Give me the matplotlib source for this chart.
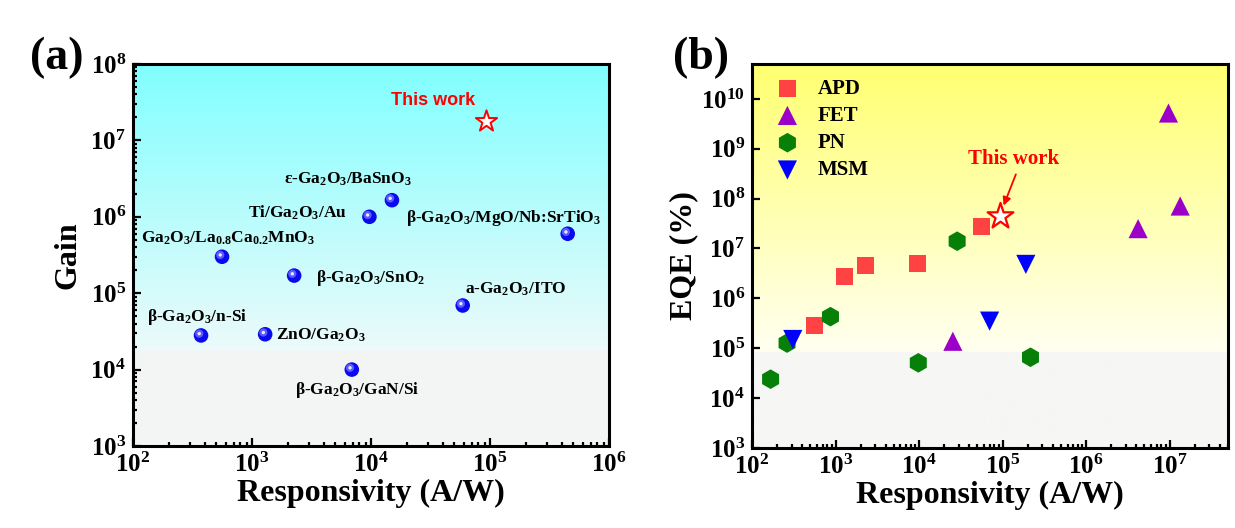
import numpy as np
import matplotlib
matplotlib.use('Agg')
import matplotlib.pyplot as plt
from matplotlib.transforms import offset_copy

plt.rcParams['font.family'] = ['Liberation Serif', 'DejaVu Serif']
plt.rcParams['font.weight'] = 'bold'
plt.rcParams['mathtext.fontset'] = 'custom'
plt.rcParams['mathtext.rm'] = 'Liberation Serif:bold'
plt.rcParams['mathtext.it'] = 'Liberation Serif:bold'
plt.rcParams['mathtext.bf'] = 'Liberation Serif:bold'
plt.rcParams['mathtext.default'] = 'bf'

# ---- panel (a): gain vs responsivity ----
gain_names = [r'$\varepsilon$-Ga$_2$O$_3$/BaSnO$_3$', 'Ti/Ga$_2$O$_3$/Au',
              r'$\beta$-Ga$_2$O$_3$/MgO/Nb:SrTiO$_3$',
              'Ga$_2$O$_3$/La$_{0.8}$Ca$_{0.2}$MnO$_3$', r'$\beta$-Ga$_2$O$_3$/SnO$_2$',
              'a-Ga$_2$O$_3$/ITO', r'$\beta$-Ga$_2$O$_3$/n-Si', 'ZnO/Ga$_2$O$_3$',
              r'$\beta$-Ga$_2$O$_3$/GaN/Si']
gain_resp = [1.5e4, 9.7e3, 4.5e5, 560, 2.26e3, 5.9e4, 373, 1.29e3, 6.9e3]
gain_vals = [1.65e6, 1.0e6, 6.0e5, 3.0e5, 1.7e5, 6.9e4, 2.8e4, 2.9e4, 1.0e4]
# label offsets (points) and alignment
gain_offs = [(-32, 15, 'center'), (-16, 3, 'right'), (24, 11, 'right'), (4, 13, 'center'),
             (16, -2, 'left'), (2, 11.5, 'left'), (-2.5, 13.5, 'center'), (8, -1, 'left'),
             (4, -15, 'center')]
this_resp_a, this_gain = 9.25e4, 1.8e7

# ---- panel (b): EQE vs responsivity ----
apd_resp = [555, 1.29e3, 2.28e3, 9.7e3, 5.66e4]
apd_eqe = [2.8e5, 2.7e6, 4.6e6, 5.0e6, 2.8e7]
fet_resp = [2.54e4, 4.2e6, 9.7e6, 1.34e7]
fet_eqe = [1.38e5, 2.5e7, 5.2e9, 7.1e7]
pn_resp = [167, 263, 870, 9.8e3, 2.86e4, 2.16e5]
pn_eqe = [2.4e4, 1.27e5, 4.3e5, 5.1e4, 1.4e7, 6.6e4]
msm_resp = [308, 7.0e4, 1.9e5]
msm_eqe = [1.5e5, 3.5e5, 4.8e6]
this_resp_b, this_eqe = 9.2e4, 4.5e7

xt_a = [2, 3, 4, 5, 6]
yt_a = [3, 4, 5, 6, 7, 8]
xt_b = [2, 3, 4, 5, 6, 7]
yt_b = [3, 4, 5, 6, 7, 8, 9, 10]


def background(ax, top, mid, low, split=0.25):
    n = 400
    frac = np.linspace(1, 0, n)[:, None]
    top, mid, low = np.array(top), np.array(mid), np.array(low)
    t = np.clip((frac - split) / (1 - split), 0, 1)
    img = mid + (top - mid) * t
    img[frac[:, 0] < split] = low
    ax.imshow(img[:, None, :] / 255.0, extent=[0, 1, 0, 1], transform=ax.transAxes,
              aspect='auto', zorder=0, interpolation='bilinear')


def style(ax, xt, yt):
    ax.set_xscale('log')
    ax.set_yscale('log')
    for s in ax.spines.values():
        s.set_linewidth(2.2)
    ax.tick_params(which='both', direction='in', top=False, right=False, width=1.6)
    ax.tick_params(which='major', length=6, labelsize=18, pad=5)
    ax.tick_params(which='minor', length=3)
    ax.set_xticks([10.0 ** e for e in xt])
    ax.set_xticklabels([r'$10^{%d}$' % e for e in xt])
    ax.set_yticks([10.0 ** e for e in yt])
    ax.set_yticklabels([r'$10^{%d}$' % e for e in yt])
    ax.set_xlabel('Responsivity (A/W)', fontsize=23, fontweight='bold', labelpad=1)


fig = plt.figure(figsize=(12.35, 5.28), dpi=100)
ax1 = fig.add_axes([0.1077, 0.1553, 0.3854, 0.7235])
ax2 = fig.add_axes([0.6089, 0.1515, 0.3854, 0.7273])

# panel a
background(ax1, (128, 255, 255), (236, 250, 250), (243, 245, 245))
style(ax1, xt_a, yt_a)
ax1.set_xlim(1e2, 1e6)
ax1.set_ylim(1e3, 1e8)
ax1.scatter(gain_resp, gain_vals, s=110, c='#0a0aee', edgecolors='none', zorder=3)
hl = offset_copy(ax1.transData, fig=fig, x=-1.3, y=1.3, units='points')
ax1.scatter(gain_resp, gain_vals, s=35, c='#5a5aff', edgecolors='none', zorder=4, transform=hl)
ax1.scatter(gain_resp, gain_vals, s=6, c='#e8e8ff', edgecolors='none', zorder=5, transform=hl)
for name, x, y, (dx, dy, ha) in zip(gain_names, gain_resp, gain_vals, gain_offs):
    ax1.annotate(name, (x, y), xytext=(dx, dy), textcoords='offset points',
                 ha=ha, va='center', fontsize=12.5, fontweight='bold', zorder=6)
ax1.scatter([this_resp_a], [this_gain], marker='*', s=260, facecolors='white',
            edgecolors='red', linewidths=1.4, zorder=5)
ax1.annotate('This work', (this_resp_a, this_gain), xytext=(-38, 15), textcoords='offset points',
             ha='center', va='center', fontsize=13, fontweight='bold', color='red',
             family='Liberation Sans')
ax1.set_ylabel('Gain', fontsize=23, fontweight='bold', labelpad=6)
fig.text(0.024, 0.89, '(a)', fontsize=33, fontweight='bold', va='center')

# panel b
background(ax2, (255, 255, 112), (255, 255, 240), (246, 246, 244))
style(ax2, xt_b, yt_b)
ax2.set_xlim(1e2, 5e7)
ax2.set_ylim(1e3, 5e10)
ax2.scatter(apd_resp, apd_eqe, marker='s', s=150, c='#ff4242', edgecolors='none', zorder=3, label='APD')
ax2.scatter(fet_resp, fet_eqe, marker='^', s=190, c='#9c00c8', edgecolors='none', zorder=3, label='FET')
ax2.scatter(pn_resp, pn_eqe, marker='h', s=200, c='#07800a', edgecolors='none', zorder=3, label='PN')
ax2.scatter(msm_resp, msm_eqe, marker='v', s=190, c='#0000ff', edgecolors='none', zorder=4, label='MSM')
ax2.scatter([this_resp_b], [this_eqe], marker='*', s=380, facecolors='white',
            edgecolors='red', linewidths=1.6, zorder=5)
ax2.annotate('This work', (this_resp_b, this_eqe), xytext=(10, 41), textcoords='offset points',
             ha='center', va='center', fontsize=15, fontweight='bold', color='red',
             arrowprops=dict(arrowstyle='-|>', color='red', lw=1.3, shrinkA=2, shrinkB=8,
                             mutation_scale=12, relpos=(0.55, 0)), zorder=6)
ax2.set_ylabel('EQE (%)', fontsize=23, fontweight='bold', labelpad=2)
leg = ax2.legend(loc='upper left', bbox_to_anchor=(0.0, 1.0), frameon=False,
                 handletextpad=0.45, labelspacing=0.35, borderaxespad=0.3, scatterpoints=1,
                 prop={'weight': 'bold', 'size': 15})
fig.text(0.545, 0.89, '(b)', fontsize=33, fontweight='bold', va='center')

fig.savefig('out.png', dpi=100)
